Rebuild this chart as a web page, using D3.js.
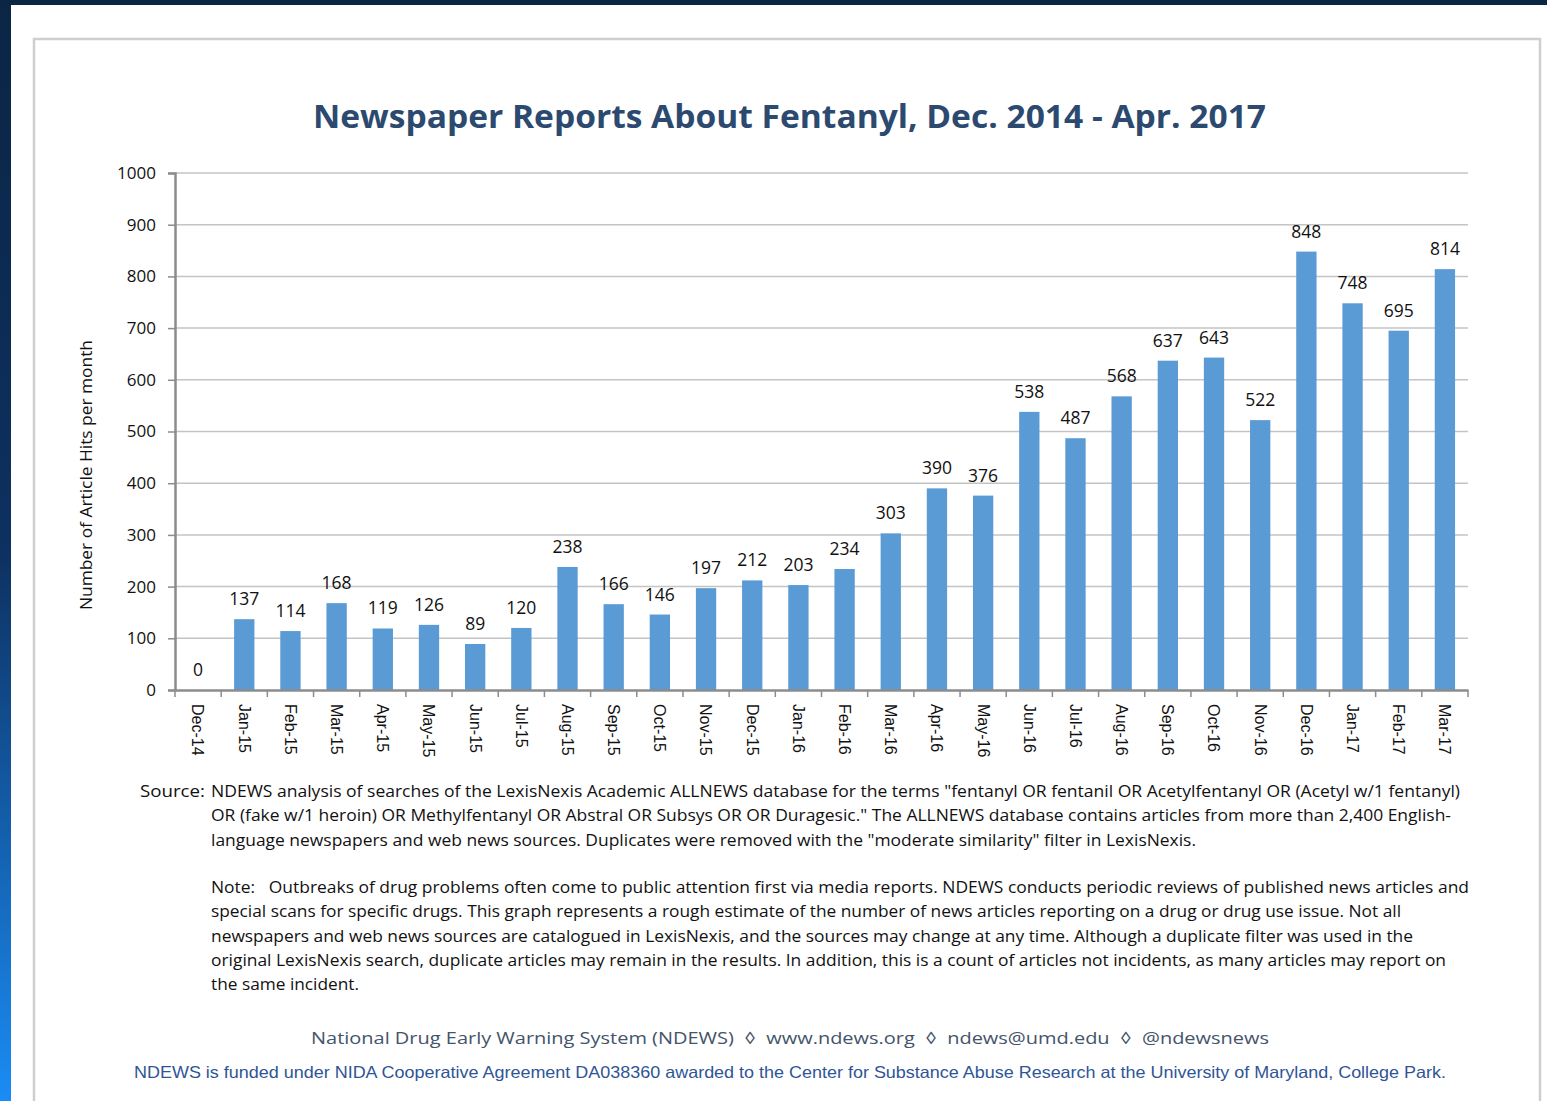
<!DOCTYPE html>
<html>
<head>
<meta charset="utf-8">
<script src="https://cdn.jsdelivr.net/npm/d3@7"></script>
<style>
  body { margin: 0; background: #0b2545; }
  svg { display: block; }
</style>
</head>
<body>
<svg id="chart" width="1547" height="1101"></svg>
<script>
// month labels and article hits
var months = ["Dec-14","Jan-15","Feb-15","Mar-15","Apr-15","May-15","Jun-15","Jul-15",
  "Aug-15","Sep-15","Oct-15","Nov-15","Dec-15","Jan-16","Feb-16","Mar-16","Apr-16",
  "May-16","Jun-16","Jul-16","Aug-16","Sep-16","Oct-16","Nov-16","Dec-16","Jan-17",
  "Feb-17","Mar-17"];
var hits = [0,137,114,168,119,126,89,120,238,166,146,197,212,203,234,303,390,376,
  538,487,568,637,643,522,848,748,695,814];
var yTicks = [0,100,200,300,400,500,600,700,800,900,1000];

var sourceLines = [
  "NDEWS analysis of searches of the LexisNexis Academic ALLNEWS database for the terms \"fentanyl OR fentanil OR Acetylfentanyl OR (Acetyl w/1 fentanyl)",
  "OR (fake w/1 heroin) OR Methylfentanyl OR Abstral OR Subsys OR OR Duragesic.\" The ALLNEWS database contains articles from more than 2,400 English-",
  "language newspapers and web news sources. Duplicates were removed with the \"moderate similarity\" filter in LexisNexis."
];
var noteLines = [
  "Note:   Outbreaks of drug problems often come to public attention first via media reports. NDEWS conducts periodic reviews of published news articles and",
  "special scans for specific drugs. This graph represents a rough estimate of the number of news articles reporting on a drug or drug use issue. Not all",
  "newspapers and web news sources are catalogued in LexisNexis, and the sources may change at any time. Although a duplicate filter was used in the",
  "original LexisNexis search, duplicate articles may remain in the results. In addition, this is a count of articles not incidents, as many articles may report on",
  "the same incident."
];
// measured right ends of each text line, so the squeezed font matches the layout
var sourceEnds = [1460, 1451, 1196];
var noteEnds = [1469, 1401, 1413, 1446, 359];

var params = {
  left: 175, right: 1468, top: 173, bottom: 690,
  body: "'Open Sans', 'Noto Sans', sans-serif",
  arial: "'Liberation Sans', Arial, sans-serif"
};

var data = months.map(function(m, i) { return { month: m, hits: hits[i] }; });

var svg = d3.select("#chart");

// page background
var defs = svg.append("defs");
var grad = defs.append("linearGradient").attr("id", "edge")
  .attr("x1", 0).attr("y1", 0).attr("x2", 0).attr("y2", 1);
grad.append("stop").attr("offset", "0%").attr("stop-color", "#0b2545");
grad.append("stop").attr("offset", "50%").attr("stop-color", "#0d3160");
grad.append("stop").attr("offset", "100%").attr("stop-color", "#1a8cf5");

svg.append("rect").attr("width", 1547).attr("height", 1101).attr("fill", "#0b2545");
svg.append("rect").attr("x", 0).attr("y", 5).attr("width", 11).attr("height", 1096).attr("fill", "url(#edge)");
svg.append("rect").attr("x", 11).attr("y", 5).attr("width", 1536).attr("height", 1096).attr("fill", "#fff");
svg.append("rect").attr("x", 34).attr("y", 39).attr("width", 1506).attr("height", 1080)
  .attr("fill", "none").attr("stroke", "#cfcfcf").attr("stroke-width", 2.5);

// title
svg.append("text")
  .attr("x", 313).attr("y", 128)
  .attr("textLength", 953).attr("lengthAdjust", "spacingAndGlyphs")
  .style("font-family", params.body).style("font-weight", "bold")
  .style("font-size", "33px").style("fill", "#2c4a70")
  .text("Newspaper Reports About Fentanyl, Dec. 2014 - Apr. 2017");

// scales
var x = d3.scaleBand().domain(months).range([params.left, params.right])
  .paddingInner(0.56).paddingOuter(0.28);
var y = d3.scaleLinear().domain([0, 1000]).range([params.bottom, params.top]);

// gridlines
svg.append("g").selectAll("line").data(yTicks.filter(function(t) { return t > 0; }))
  .join("line")
  .attr("x1", params.left).attr("x2", params.right)
  .attr("y1", function(d) { return y(d); }).attr("y2", function(d) { return y(d); })
  .attr("stroke", "#c4c4c4").attr("stroke-width", 1.5);

// y axis
var yAxis = svg.append("g")
  .attr("transform", "translate(" + params.left + ",0)")
  .call(d3.axisLeft(y).tickValues(yTicks).tickFormat(d3.format("d")).tickSize(7).tickPadding(12));
yAxis.select(".domain").attr("stroke", "#8c8c8c").attr("stroke-width", 2.5);
yAxis.selectAll(".tick line").attr("stroke", "#8c8c8c").attr("stroke-width", 1.5);
yAxis.selectAll(".tick text")
  .style("font-family", params.body).style("font-size", "17px").style("fill", "#111");

svg.append("text")
  .attr("transform", "translate(92,475) rotate(-90)")
  .attr("text-anchor", "middle")
  .attr("textLength", 270).attr("lengthAdjust", "spacingAndGlyphs")
  .style("font-family", params.body).style("font-size", "15.5px").style("fill", "#111")
  .text("Number of Article Hits per month");

// bars
svg.append("g").selectAll("rect").data(data).join("rect")
  .attr("x", function(d) { return x(d.month); })
  .attr("width", x.bandwidth())
  .attr("y", function(d) { return y(d.hits); })
  .attr("height", function(d) { return y(0) - y(d.hits); })
  .attr("fill", "#5b9bd5");

// value labels
svg.append("g").selectAll("text").data(data).join("text")
  .attr("x", function(d) { return x(d.month) + x.bandwidth() / 2; })
  .attr("y", function(d) { return y(d.hits) - 14; })
  .attr("text-anchor", "middle")
  .style("font-family", params.body).style("font-size", "17.5px").style("fill", "#111")
  .text(function(d) { return d.hits; });

// x axis
var xAxis = svg.append("g")
  .attr("transform", "translate(0," + params.bottom + ")")
  .call(d3.axisBottom(x).tickSize(0).tickPadding(0));
xAxis.select(".domain").attr("stroke", "#8c8c8c").attr("stroke-width", 2.5);
xAxis.selectAll(".tick text")
  .attr("transform", "rotate(90)")
  .attr("x", 14).attr("y", 0).attr("dy", "0.35em")
  .attr("text-anchor", "start")
  .style("font-family", params.arial).style("font-size", "16px").style("fill", "#111");

// boundary ticks between categories
var step = x.step();
var bounds = d3.range(months.length + 1).map(function(i) { return params.left + i * step; });
svg.append("g").selectAll("line").data(bounds).join("line")
  .attr("x1", function(d) { return d; }).attr("x2", function(d) { return d; })
  .attr("y1", params.bottom).attr("y2", params.bottom + 7)
  .attr("stroke", "#8c8c8c").attr("stroke-width", 1.5);

// source note
function addLines(lines, ends, y0) {
  svg.append("g").selectAll("text").data(lines).join("text")
    .attr("x", 211)
    .attr("y", function(d, i) { return y0 + i * 24.3; })
    .attr("textLength", function(d, i) { return ends[i] - 211; })
    .attr("lengthAdjust", "spacingAndGlyphs")
    .style("font-family", params.body).style("font-size", "16px").style("fill", "#111")
    .style("white-space", "pre")
    .text(function(d) { return d; });
}
svg.append("text")
  .attr("x", 140).attr("y", 797)
  .attr("textLength", 65).attr("lengthAdjust", "spacingAndGlyphs")
  .style("font-family", params.body).style("font-size", "16px").style("fill", "#111")
  .text("Source:");
addLines(sourceLines, sourceEnds, 797);
addLines(noteLines, noteEnds, 893);

// footer
svg.append("text")
  .attr("x", 311).attr("y", 1044)
  .attr("textLength", 958).attr("lengthAdjust", "spacingAndGlyphs")
  .style("font-family", params.body).style("font-size", "17px").style("fill", "#44546a")
  .style("white-space", "pre")
  .text("National Drug Early Warning System (NDEWS)  \u25CA  www.ndews.org  \u25CA  ndews@umd.edu  \u25CA  @ndewsnews");
svg.append("text")
  .attr("x", 134).attr("y", 1078)
  .attr("textLength", 1312).attr("lengthAdjust", "spacingAndGlyphs")
  .style("font-family", params.arial).style("font-size", "16.5px").style("fill", "#2f5597")
  .text("NDEWS is funded under NIDA Cooperative Agreement DA038360 awarded to the Center for Substance Abuse Research at the University of Maryland, College Park.");
</script>
</body>
</html>
